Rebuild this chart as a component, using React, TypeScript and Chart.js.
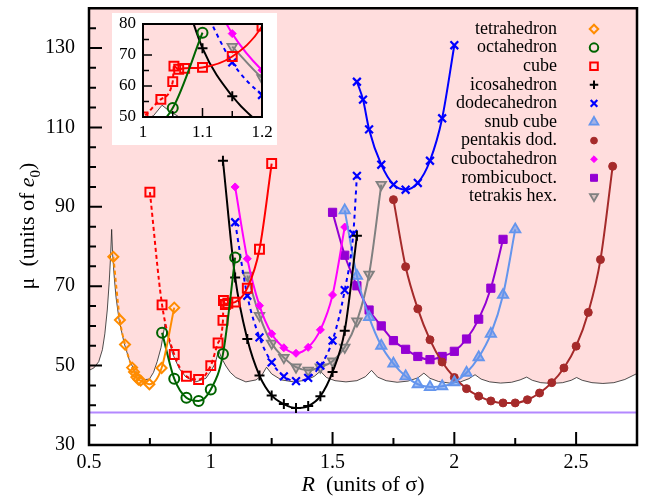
import React, { useEffect, useRef } from 'react';
import { Chart, registerables } from 'chart.js';
import { drawPoint } from 'chart.js/helpers';

Chart.register(...registerables);

const SERIF = "'Liberation Serif', 'Times New Roman', Times, serif";
const PINK = 'rgb(255,221,221)';

// ---------- data ----------
const TETRA_R = [0.6, 0.627, 0.648, 0.677, 0.685, 0.694, 0.703, 0.712, 0.748, 0.798, 0.85];
const TETRA_MU = [77.4, 61.5, 55.3, 49.5, 48.4, 47.1, 46.5, 46.2, 45.3, 49.4, 64.6];

const OCTA_R = [0.8, 0.85, 0.9, 0.95, 1.0, 1.05, 1.1];
const OCTA_MU = [58.3, 46.7, 41.9, 41.1, 44.0, 52.9, 77.2];

const CUBE_R = [0.75, 0.8, 0.85, 0.9, 0.95, 1.0, 1.03, 1.05, 1.052, 1.06, 1.07, 1.1, 1.15, 1.2, 1.25];
const CUBE_MU = [93.7, 65.3, 52.8, 47.3, 46.5, 50.0, 55.7, 61.4, 66.4, 65.4, 65.7, 66.0, 69.5, 79.3, 100.9];

const ICOSA_R = [1.05, 1.1, 1.15, 1.2, 1.25, 1.3, 1.35, 1.4, 1.45, 1.5, 1.55, 1.6];
const ICOSA_MU = [101.6, 72.2, 56.7, 47.5, 42.5, 40.3, 39.3, 39.8, 42.3, 48.4, 58.8, 82.7];

const DODECA_LOW_R = [1.1, 1.15, 1.2, 1.25, 1.3, 1.35, 1.4, 1.45, 1.5, 1.55, 1.585, 1.6];
const DODECA_LOW_MU = [86.1, 67.6, 57.1, 50.8, 47.3, 46.1, 46.9, 50.0, 56.3, 69.0, 83.2, 97.8];

const DODECA_HIGH_R = [1.6, 1.625, 1.65, 1.7, 1.75, 1.8, 1.85, 1.9, 1.95, 2.0];
const DODECA_HIGH_MU = [121.5, 117.0, 109.5, 100.6, 95.6, 94.3, 96.0, 101.6, 112.3, 130.7];

const SNUB_R = [1.55, 1.6, 1.65, 1.7, 1.75, 1.8, 1.85, 1.9, 1.95, 2.0, 2.05, 2.1, 2.15, 2.2, 2.25];
const SNUB_MU = [89.1, 72.6, 62.2, 55.0, 50.5, 47.3, 45.3, 44.6, 44.8, 45.8, 48.2, 52.1, 58.0, 67.8, 84.3];

const PENTA_R = [1.75, 1.8, 1.85, 1.9, 1.95, 2.0, 2.05, 2.1, 2.15, 2.2, 2.25, 2.3, 2.35, 2.4, 2.45, 2.5, 2.55, 2.6, 2.65];
const PENTA_MU = [91.8, 74.9, 64.3, 56.5, 50.9, 47.0, 44.2, 42.3, 41.1, 40.6, 40.6, 41.4, 43.1, 45.7, 49.4, 54.9, 63.4, 76.7, 100.2];

const CUBOCT_R = [1.1, 1.15, 1.2, 1.25, 1.3, 1.35, 1.4, 1.45, 1.5, 1.55];
const CUBOCT_MU = [95.0, 76.9, 65.1, 58.0, 54.5, 53.1, 54.6, 59.0, 67.8, 84.9];

const ROMBI_R = [1.5, 1.55, 1.6, 1.65, 1.7, 1.75, 1.8, 1.85, 1.9, 1.95, 2.0, 2.05, 2.1, 2.15, 2.2];
const ROMBI_MU = [88.6, 77.8, 70.1, 64.0, 60.0, 56.3, 54.1, 52.3, 51.5, 52.3, 53.6, 56.7, 61.7, 69.5, 81.8];

const TETRAKIS_R = [1.15, 1.2, 1.25, 1.3, 1.35, 1.4, 1.45, 1.5, 1.55, 1.6, 1.65, 1.7];
const TETRAKIS_MU = [72.7, 62.6, 55.6, 52.0, 49.6, 48.8, 49.6, 51.1, 54.6, 61.2, 73.0, 95.6];

const BOUNDARY_R = [
  0.5, 0.52, 0.54, 0.555, 0.565, 0.575, 0.583, 0.589, 0.593,
  0.597, 0.604, 0.611, 0.624, 0.645, 0.666, 0.693, 0.72, 0.748, 0.765, 0.78, 0.796, 0.812,
  0.823, 0.843, 0.871, 0.898, 0.939, 0.98, 1.0, 1.018, 1.032,
  1.045, 1.062, 1.08, 1.103, 1.144, 1.186, 1.21, 1.229,
  1.25, 1.29, 1.34, 1.39, 1.425, 1.45,
  1.475, 1.51, 1.555, 1.6, 1.635, 1.66,
  1.685, 1.72, 1.765, 1.81, 1.85, 1.875,
  1.9, 1.935, 1.98, 2.025, 2.06, 2.085,
  2.11, 2.145, 2.19, 2.235, 2.27, 2.297,
  2.32, 2.355, 2.4, 2.445, 2.48, 2.502,
  2.525, 2.565, 2.61, 2.655, 2.7, 2.75,
];
const BOUNDARY_MU = [
  48.8, 49.4, 51.0, 54.0, 58.0, 64.0, 71.0, 78.0, 84.3,
  78.0, 72.0, 67.2, 61.3, 55.5, 51.3, 48.0, 46.4, 46.6, 48.3, 51.0, 54.6, 60.5,
  57.5, 53.0, 49.2, 47.1, 45.9, 46.8, 48.6, 50.5, 53.8,
  51.8, 49.9, 48.3, 47.0, 45.9, 46.4, 47.6, 49.6,
  47.9, 46.4, 45.9, 46.3, 47.3, 48.6,
  47.0, 46.2, 45.9, 46.2, 47.2, 48.8,
  47.1, 46.2, 45.8, 46.1, 46.9, 48.1,
  46.8, 46.0, 45.6, 45.9, 46.7, 47.7,
  46.6, 45.9, 45.6, 45.8, 46.4, 47.1,
  46.3, 45.7, 45.5, 45.7, 46.3, 47.0,
  46.3, 45.7, 45.5, 45.7, 46.5, 48.0,
];

const GAP_R = [0.5, 2.75];
const GAP_MU = [38.2, 38.2];

const X_TICKS = [0.5, 1, 1.5, 2, 2.5];
const X_MINOR = [0.75, 1.25, 1.75, 2.25];
const Y_TICKS = [30, 50, 70, 90, 110, 130];
const Y_MINOR = [35, 40, 45, 55, 60, 65, 75, 80, 85, 95, 100, 105, 115, 120, 125, 135];

const INSET_X_TICKS = [1, 1.1, 1.2];
const INSET_X_MINOR = [1.05, 1.15];
const INSET_Y_TICKS = [50, 60, 70, 80];
const INSET_Y_MINOR = [55, 65, 75];

type Series = {
  label: string;
  r: number[];
  mu: number[];
  color: string;
  style: string;
  radius: number;
  fill: string;
  pbw: number;
  rotation?: number;
  dashSegs?: number;
  dash?: number[];
  legend: boolean;
};

const CLEAR = 'rgba(0,0,0,0)';

const SERIES: Series[] = [
  { label: 'tetrahedron', r: TETRA_R, mu: TETRA_MU, color: '#FF8C00', style: 'rectRot', radius: 5, fill: CLEAR, pbw: 2, dashSegs: 3, dash: [4, 3], legend: true },
  { label: 'octahedron', r: OCTA_R, mu: OCTA_MU, color: '#006400', style: 'circle', radius: 5, fill: CLEAR, pbw: 2, legend: true },
  { label: 'cube', r: CUBE_R, mu: CUBE_MU, color: '#FF0000', style: 'rect', radius: 6.3, fill: CLEAR, pbw: 2, dashSegs: 8, dash: [4, 3], legend: true },
  { label: 'icosahedron', r: ICOSA_R, mu: ICOSA_MU, color: '#000000', style: 'cross', radius: 5, fill: CLEAR, pbw: 2, legend: true },
  { label: 'dodecahedron', r: DODECA_LOW_R, mu: DODECA_LOW_MU, color: '#0000FF', style: 'crossRot', radius: 5.5, fill: CLEAR, pbw: 2.2, dashSegs: 100, dash: [4, 4], legend: true },
  { label: 'snub cube', r: SNUB_R, mu: SNUB_MU, color: '#6495ED', style: 'triangle', radius: 6, fill: 'rgba(100,149,237,0.6)', pbw: 1.8, legend: true },
  { label: 'pentakis dod.', r: PENTA_R, mu: PENTA_MU, color: '#A52A2A', style: 'circle', radius: 4, fill: '#A52A2A', pbw: 1, legend: true },
  { label: 'cuboctahedron', r: CUBOCT_R, mu: CUBOCT_MU, color: '#FF00FF', style: 'rectRot', radius: 4, fill: '#FF00FF', pbw: 1, legend: true },
  { label: 'rombicuboct.', r: ROMBI_R, mu: ROMBI_MU, color: '#9400D3', style: 'rect', radius: 5.8, fill: '#9400D3', pbw: 1, legend: true },
  { label: 'tetrakis hex.', r: TETRAKIS_R, mu: TETRAKIS_MU, color: '#808080', style: 'triangle', radius: 5.5, fill: 'rgba(128,128,128,0.3)', pbw: 1.8, rotation: 180, legend: true },
  { label: 'dodecahedron (upper)', r: DODECA_HIGH_R, mu: DODECA_HIGH_MU, color: '#0000FF', style: 'crossRot', radius: 5.5, fill: CLEAR, pbw: 2.2, legend: false },
];

function zip(r: number[], mu: number[]) {
  return r.map((x, i) => ({ x, y: mu[i] }));
}

function buildDatasets(): any[] {
  const ds: any[] = SERIES.map((s, i) => {
    const d: any = {
      label: s.label,
      data: zip(s.r, s.mu),
      borderColor: s.color,
      borderWidth: 2,
      backgroundColor: s.fill,
      pointStyle: s.style,
      pointRadius: s.radius,
      pointRotation: s.rotation || 0,
      pointBackgroundColor: s.fill,
      pointBorderColor: s.color,
      pointBorderWidth: s.pbw,
      cubicInterpolationMode: 'monotone',
      fill: false,
      order: i + 1,
    };
    if (s.dashSegs) {
      const n = s.dashSegs;
      const dash = s.dash || [4, 3];
      d.segment = { borderDash: (ctx: any) => (ctx.p1DataIndex <= n ? dash : []) };
    }
    return d;
  });
  ds.push({
    label: 'gap',
    data: zip(GAP_R, GAP_MU),
    borderColor: '#B388FF',
    borderWidth: 2,
    pointRadius: 0,
    fill: false,
    tension: 0,
    order: 99,
  });
  ds.push({
    label: 'boundary',
    data: zip(BOUNDARY_R, BOUNDARY_MU),
    borderColor: '#222222',
    borderWidth: 0.8,
    pointRadius: 0,
    tension: 0,
    fill: 'end',
    backgroundColor: PINK,
    order: 100,
  });
  return ds;
}

function drawFrame(chart: any, o: { xMajor: number[]; xMinor: number[]; yMajor: number[]; yMinor: number[]; maj: number; min: number; lw: number; fw: number }) {
  const { ctx, chartArea } = chart;
  const { left, right, top, bottom } = chartArea;
  const xs = chart.scales.x;
  const ys = chart.scales.y;
  ctx.save();
  ctx.setLineDash([]);
  ctx.strokeStyle = '#000';
  ctx.lineWidth = o.lw;
  ctx.beginPath();
  o.xMajor.forEach((v) => { const p = xs.getPixelForValue(v); ctx.moveTo(p, bottom); ctx.lineTo(p, bottom - o.maj); });
  o.xMinor.forEach((v) => { const p = xs.getPixelForValue(v); ctx.moveTo(p, bottom); ctx.lineTo(p, bottom - o.min); });
  o.yMajor.forEach((v) => { const p = ys.getPixelForValue(v); ctx.moveTo(left, p); ctx.lineTo(left + o.maj, p); });
  o.yMinor.forEach((v) => { const p = ys.getPixelForValue(v); ctx.moveTo(left, p); ctx.lineTo(left + o.min, p); });
  ctx.stroke();
  ctx.lineWidth = o.fw;
  ctx.beginPath();
  ctx.rect(left, top, right - left, bottom - top);
  ctx.stroke();
  ctx.restore();
}

type Part = { t: string; italic?: boolean; sub?: boolean };

function drawRich(ctx: CanvasRenderingContext2D, parts: Part[], cx: number, baseline: number, size: number) {
  const fontOf = (p: Part) => `${p.italic ? 'italic ' : ''}${p.sub ? Math.round(size * 0.7) : size}px ${SERIF}`;
  let total = 0;
  const widths = parts.map((p) => { ctx.font = fontOf(p); const w = ctx.measureText(p.t).width; total += w; return w; });
  let x = cx - total / 2;
  ctx.textAlign = 'left';
  ctx.textBaseline = 'alphabetic';
  parts.forEach((p, i) => {
    ctx.font = fontOf(p);
    ctx.fillText(p.t, x, baseline + (p.sub ? size * 0.25 : 0));
    x += widths[i];
  });
}

const mainDecor = {
  id: 'mainDecor',
  afterDraw(chart: any) {
    drawFrame(chart, { xMajor: X_TICKS, xMinor: X_MINOR, yMajor: Y_TICKS, yMinor: Y_MINOR, maj: 13, min: 7, lw: 2, fw: 2.5 });
    const { ctx, chartArea } = chart;
    ctx.save();
    ctx.fillStyle = '#000';
    drawRich(ctx, [{ t: 'R', italic: true }, { t: '  (units of σ)' }], (chartArea.left + chartArea.right) / 2, 491, 22);
    ctx.save();
    ctx.translate(34, 226);
    ctx.rotate(-Math.PI / 2);
    drawRich(ctx, [{ t: 'μ  (units of ' }, { t: 'e', italic: true }, { t: '0', sub: true }, { t: ')' }], 0, 0, 22);
    ctx.restore();
    const items = SERIES.filter((s) => s.legend);
    items.forEach((s, i) => {
      const y = 29 + i * 18.6;
      ctx.font = `18px ${SERIF}`;
      ctx.textAlign = 'right';
      ctx.textBaseline = 'middle';
      ctx.fillStyle = '#000';
      ctx.fillText(s.label, 557, y);
      ctx.fillStyle = s.fill;
      ctx.strokeStyle = s.color;
      ctx.lineWidth = s.pbw;
      ctx.setLineDash([]);
      drawPoint(ctx, { pointStyle: s.style as any, radius: s.radius * 0.85, rotation: s.rotation || 0, borderWidth: s.pbw } as any, 594, y);
    });
    ctx.restore();
  },
};

const insetDecor = {
  id: 'insetDecor',
  afterDraw(chart: any) {
    drawFrame(chart, { xMajor: INSET_X_TICKS, xMinor: INSET_X_MINOR, yMajor: INSET_Y_TICKS, yMinor: INSET_Y_MINOR, maj: 9, min: 6, lw: 1.5, fw: 2 });
  },
};

function axisCfg(min: number, max: number, ticks: number[], size: number, padding: number, fit: (a: any) => void) {
  return {
    type: 'linear' as const,
    min,
    max,
    afterBuildTicks: (a: any) => { a.ticks = ticks.map((v) => ({ value: v })); },
    afterFit: (a: any) => {
      fit(a);
      a.paddingTop = 0;
      a.paddingBottom = 0;
      a.paddingLeft = 0;
      a.paddingRight = 0;
    },
    grid: { display: false, drawTicks: false },
    border: { display: false },
    ticks: {
      color: '#000',
      font: { family: SERIF, size },
      padding,
      maxRotation: 0,
      autoSkip: false,
      callback: (v: any) => String(v),
    },
  };
}

export default function App() {
  const mainRef = useRef<HTMLCanvasElement>(null);
  const insetRef = useRef<HTMLCanvasElement>(null);

  useEffect(() => {
    const main = new Chart(mainRef.current as HTMLCanvasElement, {
      type: 'line',
      data: { datasets: buildDatasets() },
      options: {
        responsive: false,
        animation: false,
        devicePixelRatio: 1,
        events: [],
        layout: { padding: { top: 5, right: 11, left: 0, bottom: 0 } },
        plugins: { legend: { display: false }, tooltip: { enabled: false } },
        scales: {
          x: axisCfg(0.5, 2.75, X_TICKS, 20, 6, (a: any) => { a.height = 55; }),
          y: axisCfg(30, 140, Y_TICKS, 20, 14, (a: any) => { a.width = 89; }),
        },
      } as any,
      plugins: [mainDecor],
    });

    const inset = new Chart(insetRef.current as HTMLCanvasElement, {
      type: 'line',
      data: { datasets: buildDatasets() },
      options: {
        responsive: false,
        animation: false,
        devicePixelRatio: 1,
        events: [],
        layout: { padding: { top: 11, right: 15, left: 0, bottom: 0 } },
        plugins: { legend: { display: false }, tooltip: { enabled: false } },
        scales: {
          x: axisCfg(1, 1.2, INSET_X_TICKS, 17, 5, (a: any) => { a.height = 28; }),
          y: axisCfg(50, 80, INSET_Y_TICKS, 17, 7, (a: any) => { a.width = 31; }),
        },
      } as any,
      plugins: [insetDecor],
    });

    return () => {
      main.destroy();
      inset.destroy();
    };
  }, []);

  return (
    <div style={{ position: 'absolute', left: 0, top: 0, width: 648, height: 500, background: '#fff' }}>
      <canvas ref={mainRef} width={648} height={500} style={{ position: 'absolute', left: 0, top: 0 }} />
      <canvas ref={insetRef} width={165} height={132} style={{ position: 'absolute', left: 112, top: 13, background: '#fff' }} />
    </div>
  );
}
